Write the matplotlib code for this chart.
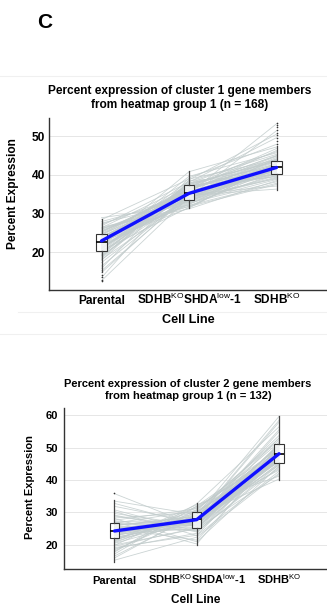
import matplotlib
matplotlib.use('Agg')
import matplotlib.pyplot as plt
from matplotlib.lines import Line2D

plt.rcParams['font.family'] = ['Liberation Sans', 'DejaVu Sans']
plt.rcParams['mathtext.fontset'] = 'custom'
plt.rcParams['mathtext.rm'] = 'Liberation Sans'
plt.rcParams['mathtext.it'] = 'Liberation Sans'

# ---- data ----
cell_lines = ['Parental', r'SDHB$^{\mathrm{KO}}$SHDA$^{\mathrm{low}}$-1', r'SDHB$^{\mathrm{KO}}$']

# cluster 1 (n = 168) -- a readable subset of gene traces
p1_parental = [22.5, 18.1, 26.3, 20.4, 24.8, 15.2, 28.4, 21.7, 23.9, 19.5, 25.6, 17.3, 22.1, 27.2,
               20.9, 24.1, 12.6, 23.3, 21.2, 26.8, 19.0, 22.9, 24.5, 16.4, 25.1, 21.5, 23.6, 20.1,
               27.9, 18.7, 22.4, 24.3, 14.7, 21.9, 26.0, 23.0, 19.8, 25.4, 22.7, 20.6,
               21.0, 25.9, 17.9, 23.4, 28.9, 19.3, 22.6, 26.5, 15.8, 24.0, 20.3, 27.5, 23.8, 18.4,
               22.0, 25.2, 21.3, 13.4, 24.7, 20.8, 26.2, 22.3, 19.1, 23.1]
p1_mid = [35.1, 33.8, 37.2, 31.6, 36.4, 34.5, 38.9, 32.7, 35.8, 36.9, 33.2, 34.9, 40.8, 35.4,
          37.7, 31.9, 34.2, 36.1, 33.5, 38.1, 35.6, 32.3, 37.0, 34.7, 36.6, 39.6, 33.9, 35.2,
          34.0, 37.5, 32.9, 36.3, 35.0, 38.5, 34.3, 33.1, 36.8, 35.9, 31.4, 37.9,
          36.2, 33.4, 38.3, 34.8, 32.1, 37.4, 35.5, 31.2, 39.2, 34.1, 36.7, 33.0, 35.3, 37.8,
          32.5, 36.0, 34.6, 38.7, 33.7, 35.7, 31.8, 37.1, 34.4, 36.5]
p1_ko = [41.8, 44.2, 39.5, 42.7, 46.3, 40.6, 43.9, 38.2, 41.1, 45.0, 42.3, 37.1, 47.2, 40.9,
         43.4, 41.5, 39.0, 44.8, 42.0, 49.6, 40.2, 43.1, 41.3, 36.3, 42.9, 45.7, 40.4, 53.2,
         41.9, 43.7, 38.8, 42.5, 44.5, 40.0, 51.4, 41.6, 46.8, 39.7, 43.0, 42.2,
         43.3, 39.2, 45.3, 41.0, 37.8, 44.0, 42.6, 38.5, 47.9, 40.7, 42.8, 39.9, 41.4, 46.0,
         40.3, 43.6, 41.7, 50.5, 39.4, 42.4, 37.5, 44.9, 41.2, 43.8]
p1_med = [22.7, 35.3, 41.9]
p1_q1 = [20.2, 33.5, 40.2]
p1_q3 = [24.7, 37.4, 43.5]
p1_wlo = [14.8, 31.3, 36.0]
p1_whi = [28.6, 41.1, 47.4]
p1_fliers = [[12.4, 12.9, 13.5, 14.1], [], [48.0, 48.8, 49.5, 50.2, 50.9, 51.6, 52.3, 53.0, 53.4]]
p1_mean = [22.9, 35.2, 41.9]

# cluster 2 (n = 132)
p2_parental = [24.1, 19.6, 28.3, 22.4, 26.0, 15.3, 33.5, 21.2, 25.4, 23.0, 29.7, 17.8, 24.8, 27.1,
               20.5, 22.9, 35.8, 25.9, 18.9, 23.6, 26.7, 21.8, 24.4, 30.8, 16.6, 25.1, 22.2, 27.6,
               20.0, 24.6, 31.9, 23.3, 19.2, 26.4, 21.5, 28.9, 23.8, 25.7, 17.2, 24.9,
               26.3, 21.0, 29.2, 23.5, 18.1, 25.6, 22.7, 30.3, 24.2, 19.9, 27.3, 16.0, 25.0, 22.0,
               28.1, 23.9, 20.7, 26.9, 24.5, 32.8, 21.3, 25.3, 18.5, 23.2]
p2_mid = [27.9, 25.3, 30.1, 26.6, 28.7, 22.4, 29.4, 31.8, 24.7, 27.2, 26.0, 32.7, 28.3, 20.3,
          27.5, 29.9, 25.8, 28.9, 23.6, 27.0, 30.6, 26.3, 28.1, 24.2, 29.2, 21.5, 27.7, 31.2,
          25.0, 28.5, 26.9, 30.4, 23.0, 27.4, 29.6, 25.6, 28.0, 26.2, 32.0, 27.1,
          26.4, 29.1, 24.0, 27.8, 30.9, 25.4, 28.6, 22.9, 27.3, 31.5, 26.7, 29.7, 24.5, 28.2,
          21.0, 27.6, 30.0, 25.9, 28.4, 26.1, 32.4, 27.0, 29.3, 25.2]
p2_ko = [48.2, 45.3, 51.6, 46.8, 49.4, 42.1, 53.7, 47.5, 50.2, 44.6, 48.9, 56.4, 46.1, 49.8,
         43.5, 47.9, 51.0, 40.3, 48.5, 45.8, 52.8, 47.2, 50.6, 44.0, 59.6, 48.0, 46.4, 49.1,
         41.7, 47.6, 54.9, 45.5, 48.7, 50.9, 43.1, 47.0, 57.8, 46.0, 49.6, 48.3,
         47.3, 50.4, 44.8, 49.0, 52.2, 46.6, 48.1, 42.7, 55.5, 47.7, 45.0, 50.0, 46.9, 58.4,
         44.3, 49.3, 47.1, 51.3, 45.9, 48.6, 41.2, 53.0, 46.3, 49.9]
p2_med = [24.3, 28.0, 48.1]
p2_q1 = [22.1, 25.1, 45.1]
p2_q3 = [26.9, 30.2, 51.1]
p2_wlo = [14.9, 20.0, 40.0]
p2_whi = [33.8, 32.8, 59.8]
p2_fliers = [[35.9], [], []]
p2_mean = [24.3, 27.8, 48.1]

W, H = 327, 608
fig = plt.figure(figsize=(W / 100, H / 100), dpi=100)

def px(x0, y0, x1, y1):
    return [x0 / W, 1 - y1 / H, (x1 - x0) / W, (y1 - y0) / H]

def panel(rect, xlim, ylim, yticks, title, genes, med, q1, q3, wlo, whi, fliers, mean,
          fs, xpad, ypad, xlab_y, ylab_xy):
    ax = fig.add_axes(rect)
    for a, b, c in zip(*genes):
        ax.plot(range(3), [a, b, c], color='#c2cccc', lw=0.6, alpha=0.85, zorder=1)
    stats = [dict(med=m, q1=l, q3=u, whislo=wl, whishi=wh, fliers=f)
             for m, l, u, wl, wh, f in zip(med, q1, q3, wlo, whi, fliers)]
    ax.bxp(stats, positions=range(3), widths=0.115, patch_artist=True, showcaps=False,
           boxprops=dict(facecolor=(1, 1, 1, 0.7), edgecolor='#333333', lw=0.8),
           whiskerprops=dict(color='#444444', lw=0.9),
           medianprops=dict(color='black', lw=1.2),
           flierprops=dict(marker='o', markersize=1.2, markerfacecolor='#333333',
                           markeredgecolor='none'),
           zorder=3)
    ax.plot(range(3), mean, color='#1010ff', lw=2.4, solid_capstyle='round', zorder=4)
    ax.set_xlim(*xlim)
    ax.set_ylim(*ylim)
    ax.set_yticks(yticks)
    ax.set_xticks(range(3))
    ax.set_xticklabels(cell_lines, fontsize=fs, fontweight='bold')
    ax.tick_params(axis='both', length=0, labelsize=fs)
    ax.tick_params(axis='x', pad=xpad)
    ax.tick_params(axis='y', pad=ypad)
    for t in ax.get_xticklabels():
        t.set_va('baseline')
    for t in ax.get_yticklabels():
        t.set_fontweight('bold')
    ax.grid(axis='y', color='#e6e6e6', lw=0.7, zorder=0)
    ax.set_axisbelow(True)
    for s in ['top', 'right']:
        ax.spines[s].set_visible(False)
    for s in ['left', 'bottom']:
        ax.spines[s].set_color('#333333')
        ax.spines[s].set_linewidth(1.0)
    ax.set_ylabel('Percent Expression', fontsize=fs, fontweight='bold', va='center')
    ax.yaxis.set_label_coords(*ylab_xy)
    ax.set_xlabel('Cell Line', fontsize=fs + 0.5, fontweight='bold', va='center')
    ax.xaxis.set_label_coords(0.5, xlab_y)
    ax.set_title(title, fontsize=fs, fontweight='bold', x=0.471, pad=7, linespacing=1.25)
    return ax

ax1 = panel(px(49, 118, 327, 290), (-0.6, 2.577), (10.2, 54.7), [20, 30, 40, 50],
            'Percent expression of cluster 1 gene members\nfrom heatmap group 1 (n = 168)',
            (p1_parental, p1_mid, p1_ko), p1_med, p1_q1, p1_q3, p1_wlo, p1_whi, p1_fliers, p1_mean,
            8.6, 10.0, 3.0, -0.174, (-0.13, 0.558))
ax2 = panel(px(64.3, 408.3, 327, 569.3), (-0.61, 2.583), (12.5, 62.1), [20, 30, 40, 50, 60],
            'Percent expression of cluster 2 gene members\nfrom heatmap group 1 (n = 132)',
            (p2_parental, p2_mid, p2_ko), p2_med, p2_q1, p2_q3, p2_wlo, p2_whi, p2_fliers, p2_mean,
            8.0, 10.8, 4.3, -0.19, (-0.13, 0.51))

fig.text(37 / W, 1 - 23 / H, 'C', fontsize=15, fontweight='bold', va='center', ha='left')

for y, x0 in [(76, 0), (312, 18), (334, 0)]:
    fig.add_artist(Line2D([x0 / W, 1], [1 - y / H, 1 - y / H], color='#f0f0f0', lw=0.8))

fig.savefig('out.png', dpi=100)
